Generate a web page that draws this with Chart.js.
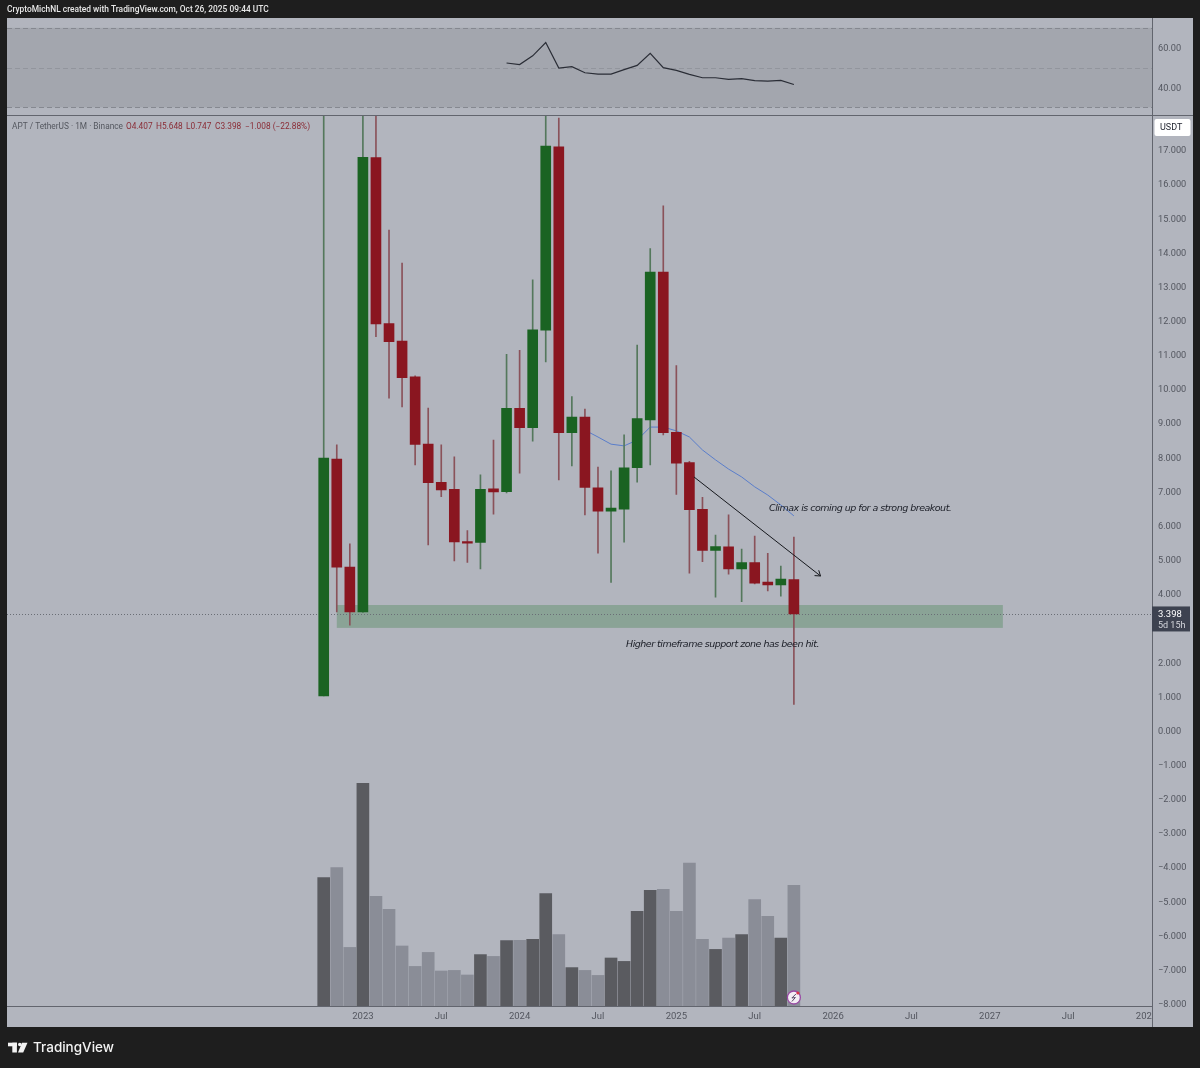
<!DOCTYPE html>
<html>
<head>
<meta charset="utf-8">
<title>APT / TetherUS</title>
<script src="https://cdn.jsdelivr.net/npm/chart.js@4"></script>
<style>
    html, body { margin: 0; padding: 0; background: #1e1e1e; }
    canvas { display: block; }
</style>
</head>
<body>
<canvas id="ChartForApt" width="1200" height="1068"></canvas>
<script>
var candleMonths = ['2022-10','2022-11','2022-12','2023-01','2023-02','2023-03','2023-04','2023-05','2023-06','2023-07','2023-08','2023-09','2023-10','2023-11','2023-12','2024-01','2024-02','2024-03','2024-04','2024-05','2024-06','2024-07','2024-08','2024-09','2024-10','2024-11','2024-12','2025-01','2025-02','2025-03','2025-04','2025-05','2025-06','2025-07','2025-08','2025-09','2025-10'];
var opens  = [1.00,7.93,4.77,3.46,16.76,11.90,11.39,10.34,8.37,7.25,7.05,5.52,5.49,7.06,6.98,9.42,8.85,11.71,17.08,8.71,9.16,7.09,6.41,6.47,7.68,9.08,13.41,8.72,7.83,6.46,5.26,5.36,4.72,4.90,4.33,4.25,4.407];
var highs  = [20.0,8.35,5.45,19.0,19.0,14.64,13.67,10.37,9.43,8.35,8.00,5.84,7.47,8.49,11.00,11.12,13.18,19.0,17.92,9.76,9.40,7.70,7.59,8.64,11.27,14.10,15.35,10.67,7.87,6.81,5.71,6.30,5.30,5.68,5.17,4.80,5.648];
var lows   = [1.00,3.46,3.07,3.44,11.52,9.72,9.46,7.76,5.42,6.83,4.95,4.91,4.72,6.32,6.94,7.52,8.46,10.78,7.32,7.73,6.30,5.18,4.32,5.50,7.26,7.76,8.64,6.90,4.59,4.93,3.89,4.56,3.76,4.28,4.07,3.92,0.747];
var closes = [7.96,4.77,3.46,16.77,11.89,11.37,10.32,8.36,7.24,7.03,5.51,5.47,7.05,6.97,9.42,8.85,11.72,17.10,8.71,9.16,7.10,6.41,6.50,7.68,9.12,13.41,8.71,7.81,6.45,5.26,5.37,4.72,4.90,4.30,4.25,4.42,3.398];
var volumes = [642,692,293,1113,548,483,300,198,268,175,178,155,257,248,327,328,333,562,357,192,178,153,240,223,473,578,583,473,715,333,283,340,357,532,448,340,603];

var rsiMonths = candleMonths.slice(14);
var rsiValues = [52.3,51.5,55.9,62.6,49.8,50.5,47.4,46.75,46.75,48.95,51.1,57.2,50.0,48.6,46.6,44.9,44.9,44.05,44.4,43.4,43.2,43.55,41.5];
var maMonths = candleMonths.slice(20);
var maValues = [8.78,8.58,8.37,8.32,8.49,8.87,8.87,8.76,8.58,8.20,7.91,7.64,7.41,7.12,6.88,6.59,6.27];

var priceTicks = [17,16,15,14,13,12,11,10,9,8,7,6,5,4,3,2,1,0,-1,-2,-3,-4,-5,-6,-7,-8];
var rsiTicks = [60,40];
var timeTickMonths = ['2023-01','2023-07','2024-01','2024-07','2025-01','2025-07','2026-01','2026-07','2027-01','2027-07','2028-01'];
var timeTickLabels = ['2023','Jul','2024','Jul','2025','Jul','2026','Jul','2027','Jul','2028'];

var supportZone = { fromMonth: '2022-11', toMonth: '2027-02', high: 3.66, low: 2.99 };
var trendArrow = { x1: 28.35, y1: 7.41, x2: 38.04, y2: 4.51 };
var lastPrice = 3.398;

var colorFrame = '#1e1e1e', colorPane = '#b2b5be', colorBand = '#a3a6ae', colorLine = '#62656e', colorAxisText = '#53565f';
var colorUp = '#1a6322', colorDown = '#8a1620', colorWickUp = '#54785c', colorWickDown = '#8a525a';
var colorVolUp = '#5a5b60', colorVolDown = '#8a8d97';
var axisFont = { family: 'Roboto', size: 9.2 };

// month string -> position on the time axis (0 = first candle)
function monthPos(m) {
    var p = m.split('-');
    return (parseInt(p[0]) - 2022) * 12 + parseInt(p[1]) - 10;
}

function isUp(i) { return closes[i] >= opens[i]; }

var paneBackground = {
    id: 'paneBackground',
    beforeDraw: function (chart) {
        var c = chart.ctx;
        c.save();
        c.fillStyle = colorFrame;
        c.fillRect(0, 0, 1200, 1068);
        c.fillStyle = colorPane;
        c.fillRect(7, 18, 1186, 1009);

        // rsi band and its dashed levels
        var r = chart.scales.yRsi;
        c.fillStyle = colorBand;
        c.fillRect(7, r.getPixelForValue(70), 1145, r.getPixelForValue(30) - r.getPixelForValue(70));
        c.lineWidth = 1;
        c.setLineDash([5, 3]);
        [[70, '#858890'], [50, '#92959d'], [30, '#858890']].forEach(function (v) {
            var py = Math.round(r.getPixelForValue(v[0])) + 0.5;
            c.strokeStyle = v[1];
            c.beginPath();
            c.moveTo(7, py);
            c.lineTo(1152, py);
            c.stroke();
        });
        c.restore();
    },
    beforeDatasetsDraw: function (chart) {
        var c = chart.ctx, x = chart.scales.x, y = chart.scales.y;
        c.save();
        c.fillStyle = 'rgba(84,138,96,0.42)';
        var left = x.getPixelForValue(monthPos(supportZone.fromMonth));
        var right = x.getPixelForValue(monthPos(supportZone.toMonth));
        var top = y.getPixelForValue(supportZone.high);
        c.fillRect(left, top, right - left, y.getPixelForValue(supportZone.low) - top);

        // last price dotted line
        var py = Math.round(y.getPixelForValue(lastPrice)) + 0.5;
        c.strokeStyle = '#6a6e76';
        c.setLineDash([1, 2]);
        c.beginPath();
        c.moveTo(7, py);
        c.lineTo(1152, py);
        c.stroke();
        c.restore();
    },
    afterDatasetsDraw: function (chart) {
        // right axis panel goes over the clipped time label, axis text is drawn after this
        var c = chart.ctx;
        c.save();
        c.fillStyle = colorPane;
        c.fillRect(1152, 1007, 41, 20);
        c.fillStyle = colorLine;
        c.fillRect(7, 115, 1186, 1);
        c.fillRect(7, 1006, 1145, 1);
        c.fillRect(1152, 18, 1, 1009);
        c.restore();
    }
};

var chartTexts = {
    id: 'chartTexts',
    afterDraw: function (chart) {
        var c = chart.ctx, x = chart.scales.x, y = chart.scales.y;
        c.save();

        // arrow
        var ax = x.getPixelForValue(trendArrow.x1), ay = y.getPixelForValue(trendArrow.y1);
        var bx = x.getPixelForValue(trendArrow.x2), by = y.getPixelForValue(trendArrow.y2);
        var ang = Math.atan2(by - ay, bx - ax);
        c.strokeStyle = '#16181d';
        c.lineWidth = 1;
        c.beginPath();
        c.moveTo(ax, ay);
        c.lineTo(bx, by);
        c.moveTo(bx - 6 * Math.cos(ang - 0.6), by - 6 * Math.sin(ang - 0.6));
        c.lineTo(bx, by);
        c.lineTo(bx - 6 * Math.cos(ang + 0.6), by - 6 * Math.sin(ang + 0.6));
        c.stroke();

        // notes
        c.fillStyle = '#1a1d26';
        c.font = 'italic 9.5px "DejaVu Sans"';
        c.letterSpacing = '-0.5px';
        c.textBaseline = 'middle';
        c.textAlign = 'left';
        c.fillText('Climax is coming up for a strong breakout.', 769, 509);
        c.fillText('Higher timeframe support zone has been hit.', 626, 644.5);
        c.letterSpacing = '0px';

        // header
        c.fillStyle = '#e8e8e8';
        c.font = '500 8.4px Roboto';
        c.fillText('CryptoMichNL created with TradingView.com, Oct 26, 2025 09:44 UTC', 7, 10);

        // symbol legend
        c.font = '8.3px Roboto';
        c.fillStyle = '#54575f';
        c.fillText('APT / TetherUS \u00b7 1M \u00b7 Binance', 12, 126.5);
        c.fillStyle = '#8a2c36';
        [['O4.407', 126], ['H5.648', 156], ['L0.747', 186], ['C3.398', 215], ['\u22121.008 (\u221222.88%)', 245]].forEach(function (t) {
            c.fillText(t[0], t[1], 126.5);
        });

        // usdt badge
        c.fillStyle = '#ffffff';
        c.beginPath();
        c.roundRect(1154.5, 119, 36, 17, 2);
        c.fill();
        c.fillStyle = '#1e222d';
        c.font = '9px Roboto';
        c.fillText('USDT', 1160, 128);

        // last price box
        var py = y.getPixelForValue(lastPrice);
        c.fillStyle = '#3d4250';
        c.fillRect(1152, py - 7.5, 38, 25);
        c.fillStyle = '#ffffff';
        c.font = '9.5px Roboto';
        c.fillText('3.398', 1158, py + 0.5);
        c.fillStyle = '#d5d7dd';
        c.font = '9px Roboto';
        c.fillText('5d 15h', 1158, py + 11.5);

        // bolt badge on the last volume bar
        var bxp = x.getPixelForValue(monthPos('2025-10'));
        c.fillStyle = '#f4eef5';
        c.strokeStyle = '#9a4aa5';
        c.lineWidth = 1.3;
        c.beginPath();
        c.arc(bxp, 997.5, 6.5, 0, Math.PI * 2);
        c.fill();
        c.stroke();
        c.strokeStyle = '#5a4a68';
        c.lineWidth = 1;
        c.beginPath();
        c.moveTo(bxp + 2, 994);
        c.lineTo(bxp - 2, 998);
        c.lineTo(bxp + 1.5, 997.5);
        c.lineTo(bxp - 2, 1001.5);
        c.stroke();
        c.fillStyle = '#d8344a';
        c.beginPath();
        c.arc(bxp + 4, 993, 1.6, 0, Math.PI * 2);
        c.fill();

        // footer logo
        c.fillStyle = '#f2f2f2';
        c.fillRect(8, 1042.7, 9, 3.6);
        c.fillRect(12.3, 1042.7, 4.6, 9.8);
        c.beginPath();
        c.arc(19.8, 1044.5, 1.8, 0, Math.PI * 2);
        c.fill();
        c.beginPath();
        c.moveTo(22, 1042.7);
        c.lineTo(27.5, 1042.7);
        c.lineTo(23.2, 1052.5);
        c.lineTo(18, 1052.5);
        c.closePath();
        c.fill();
        c.font = '500 13.5px Inter';
        c.fillText('TradingView', 33, 1048);
        c.restore();
    }
};

var ctx = document.getElementById('ChartForApt').getContext('2d');

var ChartForApt = new Chart(ctx, {
    type: 'bar',
    data: {
        datasets: [
            {
                label: 'RSI',
                type: 'line',
                yAxisID: 'yRsi',
                order: 1,
                data: rsiMonths.map(function (m, i) { return { x: monthPos(m), y: rsiValues[i] }; }),
                borderColor: '#2a2d36',
                borderWidth: 1.2,
                pointRadius: 0,
                tension: 0
            },
            {
                label: 'Body',
                grouped: false,
                yAxisID: 'y',
                order: 2,
                barThickness: 10,
                data: candleMonths.map(function (m, i) { return { x: monthPos(m), y: [opens[i], closes[i]] }; }),
                backgroundColor: candleMonths.map(function (m, i) { return isUp(i) ? colorUp : colorDown; })
            },
            {
                label: 'Wick',
                grouped: false,
                yAxisID: 'y',
                order: 3,
                barThickness: 1,
                data: candleMonths.map(function (m, i) { return { x: monthPos(m), y: [lows[i], highs[i]] }; }),
                backgroundColor: candleMonths.map(function (m, i) { return isUp(i) ? colorWickUp : colorWickDown; })
            },
            {
                label: 'MA',
                type: 'line',
                yAxisID: 'y',
                order: 4,
                data: maMonths.map(function (m, i) { return { x: monthPos(m), y: maValues[i] }; }),
                borderColor: '#5a7ecb',
                borderWidth: 1,
                pointRadius: 0,
                tension: 0
            },
            {
                label: 'Volume',
                grouped: false,
                yAxisID: 'yVol',
                order: 5,
                barThickness: 12,
                data: candleMonths.map(function (m, i) { return { x: monthPos(m), y: volumes[i] }; }),
                backgroundColor: candleMonths.map(function (m, i) { return isUp(i) ? colorVolUp : colorVolDown; })
            }
        ]
    },
    options: {
        responsive: false,
        animation: false,
        layout: { padding: { top: 18, left: 7, right: 7, bottom: 41 } },
        plugins: { legend: { display: false }, tooltip: { enabled: false } },
        events: [],
        scales: {
            x: {
                type: 'linear',
                offset: false,
                min: -24.25,
                max: 63.42,
                grid: { display: false, drawTicks: false },
                border: { display: false },
                afterBuildTicks: function (scale) {
                    scale.ticks = timeTickMonths.map(function (m) { return { value: monthPos(m) }; });
                },
                afterFit: function (scale) { scale.height = 21; },
                ticks: {
                    autoSkip: false,
                    maxRotation: 0,
                    padding: 5,
                    color: colorAxisText,
                    font: { family: 'Roboto', size: 9.5 },
                    callback: function (value) { return timeTickLabels[timeTickMonths.findIndex(function (m) { return monthPos(m) === value; })]; }
                }
            },
            yRsi: {
                type: 'linear',
                position: 'right',
                stack: 'right',
                stackWeight: 97.5,
                weight: 1,
                z: 1,
                min: 25.9,
                max: 74.95,
                grid: { display: false, drawTicks: false },
                border: { display: false },
                afterBuildTicks: function (scale) {
                    scale.ticks = rsiTicks.map(function (v) { return { value: v }; });
                },
                afterFit: function (scale) { scale.width = 41; },
                ticks: {
                    autoSkip: false,
                    padding: 6,
                    labelOffset: 1,
                    color: colorAxisText,
                    font: axisFont,
                    callback: function (value) { return value.toFixed(2); }
                }
            },
            y: {
                type: 'linear',
                position: 'right',
                stack: 'right',
                stackWeight: 890.5,
                weight: 2,
                z: 1,
                min: -8.082,
                max: 17.994,
                grid: { display: false, drawTicks: false },
                border: { display: false },
                afterBuildTicks: function (scale) {
                    scale.ticks = priceTicks.map(function (v) { return { value: v }; });
                },
                afterFit: function (scale) { scale.width = 41; },
                ticks: {
                    autoSkip: false,
                    padding: 6,
                    labelOffset: 1.5,
                    color: colorAxisText,
                    font: axisFont,
                    callback: function (value) { return value.toFixed(3).replace('-', '\u2212'); }
                }
            },
            yVol: {
                type: 'linear',
                display: false,
                min: 0,
                max: 4940
            }
        }
    },
    plugins: [paneBackground, chartTexts]
});
</script>
</body>
</html>
